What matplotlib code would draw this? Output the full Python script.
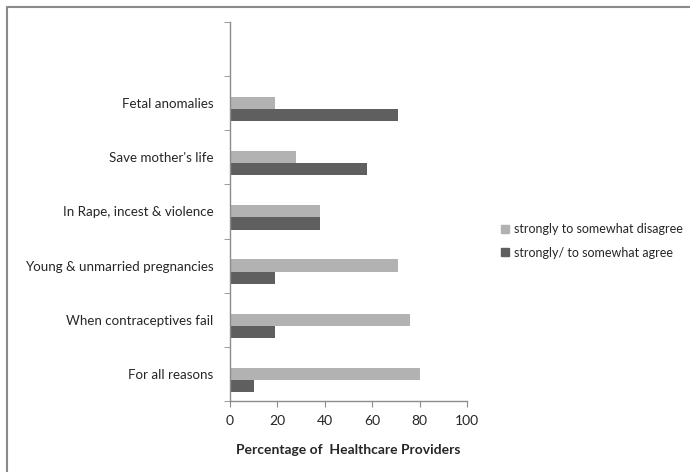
import matplotlib
matplotlib.use("Agg")
import matplotlib.pyplot as plt
from matplotlib.lines import Line2D
import numpy as np

plt.rcParams['font.family'] = ['Lato', 'DejaVu Sans']

# Reasons, bottom to top (top slot left empty)
categories = ["For all reasons", "When contraceptives fail", "Young & unmarried pregnancies",
              "In Rape, incest & violence", "Save mother's life", "Fetal anomalies", ""]
disagree = [80, 76, 71, 38, 28, 19, np.nan]
agree = [10, 19, 19, 38, 58, 71, np.nan]
series_names = ["strongly to somewhat disagree", "strongly/ to somewhat agree"]
x_ticks = [0, 20, 40, 60, 80, 100]

light = "#b2b2b2"
dark = "#5f5f5f"
axis_grey = "#8c8c8c"
text_col = "#262626"

fig = plt.figure(figsize=(6.9, 4.72), dpi=100)
ax = fig.add_axes([230 / 690, 1 - 401 / 472, 237 / 690, 379 / 472])

y = np.arange(len(categories))
shift = -0.11
h = 0.225
ax.barh(y + shift + h / 2, disagree, height=h, color=light, label=series_names[0])
ax.barh(y + shift - h / 2, agree, height=h, color=dark, label=series_names[1])

ax.set_xlim(0, 100)
ax.set_ylim(-0.5, len(categories) - 0.5)
ax.set_xticks(x_ticks)
ax.set_xticklabels([str(v) for v in x_ticks], fontsize=10, color=text_col)
ax.set_yticks(y)
ax.set_yticklabels(categories, fontsize=9.6, color=text_col)
ax.set_yticks(np.arange(len(categories) + 1) - 0.5, minor=True)
ax.tick_params(axis='y', which='major', length=0, pad=12)
ax.tick_params(axis='y', which='minor', length=4, color=axis_grey, direction='out')
ax.tick_params(axis='x', length=4, color=axis_grey, direction='out', pad=6)

for s in ['top', 'right']:
    ax.spines[s].set_visible(False)
for s in ['left', 'bottom']:
    ax.spines[s].set_color(axis_grey)
    ax.spines[s].set_linewidth(1.0)

ax.set_xlabel("Percentage of  Healthcare Providers", fontsize=10, fontweight='bold',
              color=text_col, labelpad=12)

handles = [Line2D([], [], marker='s', linestyle='none', markersize=6,
                  markerfacecolor=c, markeredgecolor=c) for c in (light, dark)]
fig.legend(handles, series_names, loc='center left', bbox_to_anchor=(490 / 690, 1 - 241 / 472),
           frameon=False, fontsize=9, handlelength=0.6, handletextpad=0.45,
           labelspacing=0.9, labelcolor=text_col)

# chart border
fig.add_artist(Line2D([7 / 690, 7 / 690, 1.0], [0.0, 1 - 7 / 472, 1 - 7 / 472],
                      transform=fig.transFigure, color="#8a8a8a", linewidth=1.5))

fig.savefig("out.png", dpi=100, facecolor="white")
